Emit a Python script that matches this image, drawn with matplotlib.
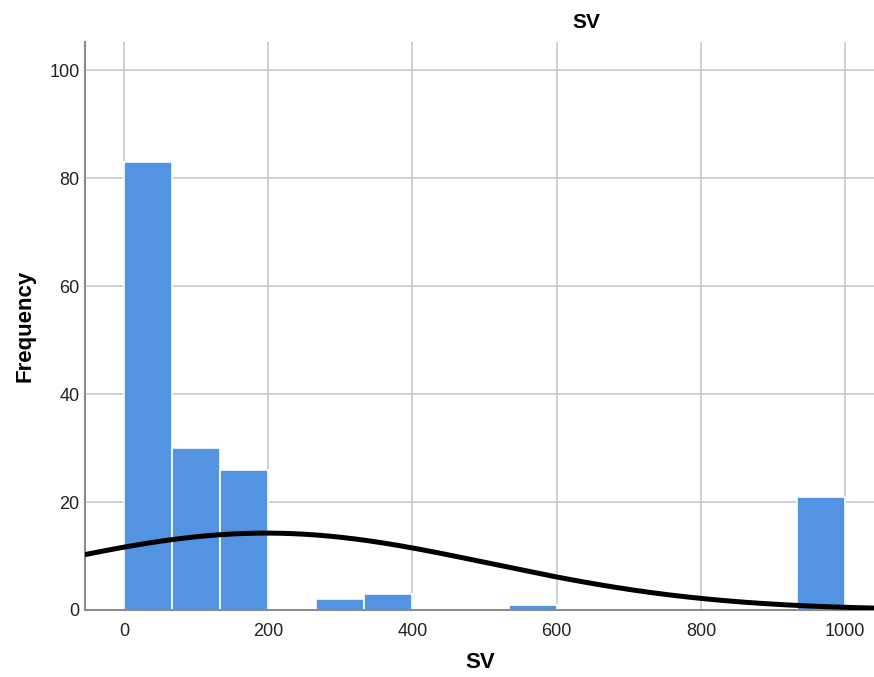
import numpy as np
import matplotlib
matplotlib.use("Agg")
import matplotlib.pyplot as plt

plt.rcParams['font.family'] = ['Liberation Sans', 'DejaVu Sans']

# histogram bins (left edges) and counts
bin_width = 1000 / 15
bin_starts = [0, 66.67, 133.33, 266.67, 333.33, 533.33, 933.33]
counts = [83, 30, 26, 2, 3, 1, 21]

# normal curve parameters
sv_mean = 197
sv_sd = 310
n_total = sum(counts)

x_ticks = [0, 200, 400, 600, 800, 1000]
y_ticks = [0, 20, 40, 60, 80, 100]

fig = plt.figure(figsize=(8.74, 6.77), dpi=100)
ax = fig.add_axes([85 / 874, 1 - 610 / 677, 1 - 85 / 874, (610 - 42) / 677])

ax.bar(bin_starts, counts, width=bin_width, align='edge',
       color='#5294e2', edgecolor='white', linewidth=1.2, zorder=2)

xs = np.linspace(-60, 1050, 400)
pdf = n_total * bin_width / (sv_sd * np.sqrt(2 * np.pi)) * np.exp(-0.5 * ((xs - sv_mean) / sv_sd) ** 2)
ax.plot(xs, pdf, color='black', linewidth=3.6, zorder=3, solid_capstyle='butt')

ax.set_xlim(-54, 1040)
ax.set_ylim(0, 105.2)
ax.set_xticks(x_ticks)
ax.set_yticks(y_ticks)
ax.grid(True, color='#c8c8c8', linewidth=1.2, zorder=0)
ax.set_axisbelow(True)
ax.tick_params(length=0, labelsize=13, colors='#222222')
ax.tick_params(axis='y', pad=4)
ax.tick_params(axis='x', pad=9)

for side in ['top', 'right']:
    ax.spines[side].set_visible(False)
for side in ['left', 'bottom']:
    ax.spines[side].set_color('#8c8c8c')
    ax.spines[side].set_linewidth(1.5)

ax.set_ylabel('Frequency', fontsize=16, fontweight='bold', labelpad=10)
fig.text(480 / 874, 1 - 663 / 677, 'SV', ha='center', va='center', fontsize=16, fontweight='bold')
fig.text(586 / 874, 1 - 22 / 677, 'SV', ha='center', va='center', fontsize=15, fontweight='bold')

fig.savefig('out.png', dpi=100)
